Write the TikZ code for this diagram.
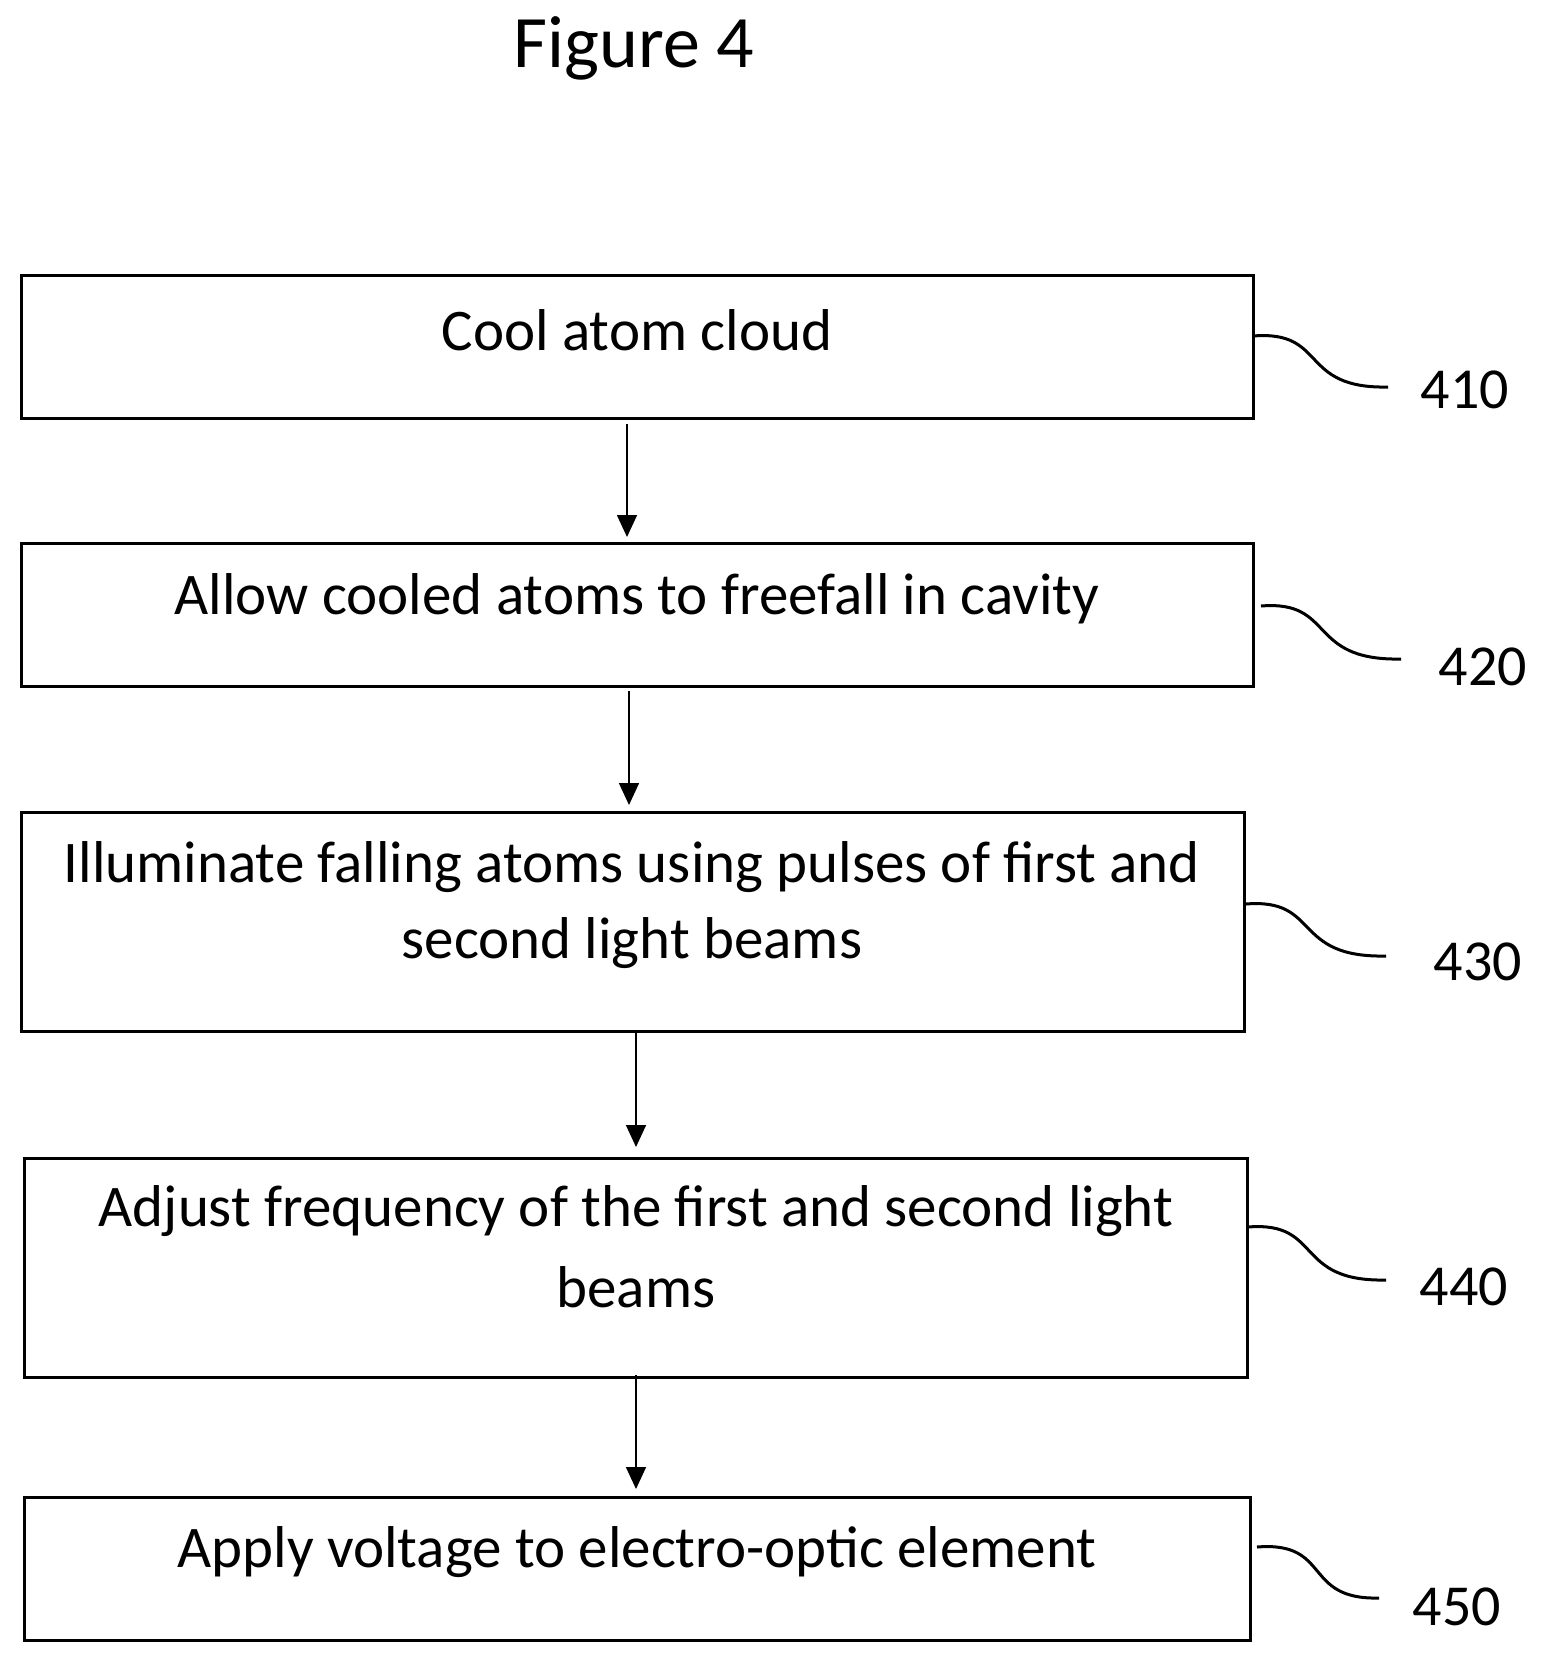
\documentclass[tikz,border=0pt]{standalone}
\usepackage{fontspec}
\setmainfont{Carlito}
\usetikzlibrary{arrows.meta}
\begin{document}
\begin{tikzpicture}[x=0.5pt,y=-0.5pt,
  box/.style={draw,line width=1.5pt,inner sep=0},
  txt/.style={font=\fontsize{29.5}{36}\selectfont},
  arr/.style={-{Triangle[length=11pt,width=10pt]},line width=0.8pt},
  lead/.style={line width=1.5pt},
  num/.style={font=\fontsize{29}{32}\selectfont}]
\useasboundingbox (0,0) rectangle (1550,1666);
\node[font=\fontsize{37}{40}\selectfont] (title) at (634,48) {Figure 4};
\draw[box] (21,275) rectangle (1253,418);
\node[txt] (t1) at (637,330) {Cool atom cloud};
\draw[box] (21,543) rectangle (1253,686);
\node[txt] (t2) at (637,599) {Allow cooled atoms to freefall in cavity};
\draw[box] (21,812) rectangle (1244,1031);
\node[txt] (t3a) at (632,867) {Illuminate falling atoms using pulses of first and};
\node[txt] (t3b) at (632,943) {second light beams};
\draw[box] (24,1158) rectangle (1247,1377);
\node[txt] (t4a) at (636,1211) {Adjust frequency of the first and second light};
\node[txt] (t4b) at (636,1287) {beams};
\draw[box] (24,1497) rectangle (1250,1640);
\node[txt] (t5) at (637,1552) {Apply voltage to electro-optic element};
\coordinate (a1s) at (627,424); \coordinate (a1e) at (627,537);
\coordinate (a2s) at (629,691); \coordinate (a2e) at (629,805);
\coordinate (a3s) at (636,1033); \coordinate (a3e) at (636,1147);
\coordinate (a4s) at (636,1375); \coordinate (a4e) at (636,1489);
\draw[arr] (a1s) -- (a1e);
\draw[arr] (a2s) -- (a2e);
\draw[arr] (a3s) -- (a3e);
\draw[arr] (a4s) -- (a4e);
\foreach \sx/\sy/\ex/\ey/\lx/\ly/\t in {
  1253/336/1388/387/1465/390/410,
  1261/606/1401/659/1483/667/420,
  1246/904/1386/956/1478/962/430,
  1248/1227/1386/1280/1464/1287/440,
  1257/1547/1379/1598/1457/1607/450}{
  \coordinate (ls\t) at (\sx,\sy);
  \coordinate (le\t) at (\ex,\ey);
  \draw[lead] (ls\t) .. controls ({\sx+75},{\sy-6}) and ({\sx+45},{\ey+2}) .. (le\t);
  \node[num] (n\t) at (\lx,\ly) {\t};
}
\end{tikzpicture}
\end{document}
